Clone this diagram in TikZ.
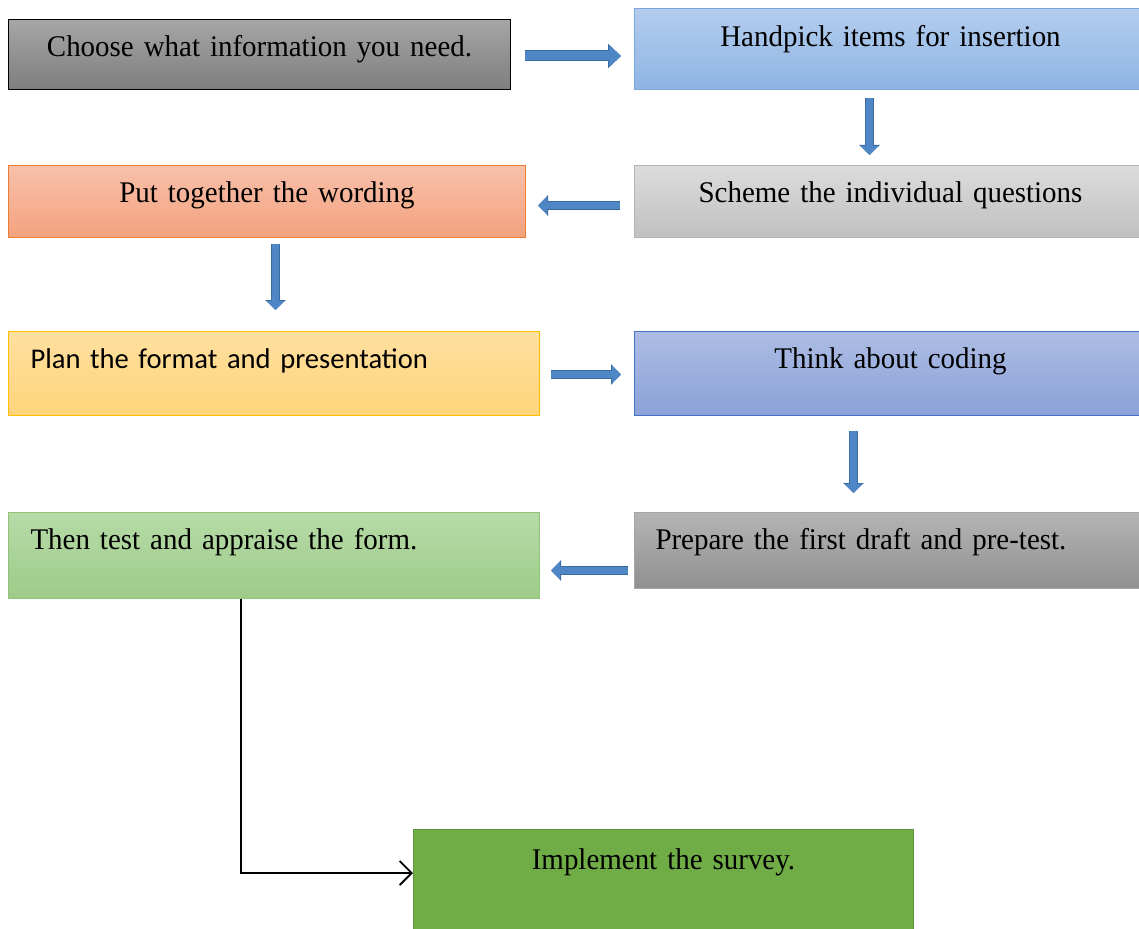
\documentclass[tikz,border=0pt]{standalone}
\usepackage{fontspec}
\setmainfont{Liberation Serif}[FakeStretch=0.965]
\newfontfamily\calibri{Carlito}
\usetikzlibrary{arrows.meta}
\protected\def\tightsp{\spaceskip=5.7pt\relax}
\definecolor{arrfill}{HTML}{4F86C6}
\definecolor{arredge}{HTML}{3A6B9E}
\tikzset{
  box/.style={anchor=north west, inner xsep=0pt, inner ysep=0pt, align=center,
    font=\fontsize{30}{35}\selectfont\tightsp, line width=1pt},
  leftbox/.style={box, align=left, inner xsep=22pt},
  blockarrow/.style={line width=7pt, draw=arrfill,
    -{Triangle[length=9pt,width=17pt,fill=arrfill,color=arrfill]},
    preaction={draw=arredge, line width=9pt,
      -{Triangle[length=10pt,width=20pt,fill=arredge,color=arredge]}}},
  bigarrow/.style={line width=9pt, draw=arrfill,
    -{Triangle[length=12pt,width=21pt,fill=arrfill,color=arrfill]},
    preaction={draw=arredge, line width=11pt,
      -{Triangle[length=13pt,width=24pt,fill=arredge,color=arredge]}}},
  conn/.style={line width=1.8pt, draw=black,
    -{Straight Barb[length=12pt,width=24pt,line width=1.8pt]}}
}
\begin{document}
\begin{tikzpicture}[x=1pt,y=-1pt]
\useasboundingbox (0,0) rectangle (1139,928);
\clip (0,0) rectangle (1139,928);

\node[box, top color={rgb,255:red,166;green,166;blue,166}, bottom color={rgb,255:red,126;green,126;blue,126}, draw=black,
  text width=502pt, text height=37pt, text depth=33pt] (b1) at (8,19) {Choose what information you need.};
\node[box, top color={rgb,255:red,180;green,205;blue,238}, bottom color={rgb,255:red,142;green,180;blue,227}, draw={rgb,255:red,125;green,166;blue,220},
  text width=512pt, text height=38pt, text depth=43pt] (b2) at (634,8) {Handpick items for insertion};
\node[box, top color={rgb,255:red,220;green,220;blue,220}, bottom color={rgb,255:red,192;green,192;blue,192}, draw={rgb,255:red,180;green,180;blue,180},
  text width=512pt, text height=37pt, text depth=35pt] (b3) at (634,165) {Scheme the individual questions};
\node[box, top color={rgb,255:red,248;green,192;blue,170}, bottom color={rgb,255:red,244;green,162;blue,126}, draw={rgb,255:red,237;green,125;blue,49},
  text width=517pt, text height=37pt, text depth=35pt] (b4) at (8,165) {Put together the wording};
\node[leftbox, top color={rgb,255:red,255;green,224;blue,160}, bottom color={rgb,255:red,255;green,212;blue,122}, draw={rgb,255:red,255;green,192;blue,0},
  font=\calibri\fontsize{28.6}{34}\selectfont,
  text width=487pt, text height=37pt, text depth=47pt] (b5) at (8,331) {Plan the format and presentation};
\node[box, top color={rgb,255:red,173;green,188;blue,228}, bottom color={rgb,255:red,138;green,162;blue,216}, draw={rgb,255:red,68;green,114;blue,196},
  text width=512pt, text height=37pt, text depth=47pt] (b6) at (634,331) {Think about coding};
\node[leftbox, inner xsep=21pt, top color={rgb,255:red,180;green,180;blue,180}, bottom color={rgb,255:red,144;green,144;blue,144}, draw={rgb,255:red,166;green,166;blue,166},
  text width=470pt, text height=37pt, text depth=39pt] (b7) at (634,512) {Prepare the first draft and pre-test.};
\node[leftbox, top color={rgb,255:red,182;green,219;blue,168}, bottom color={rgb,255:red,159;green,203;blue,136}, draw={rgb,255:red,143;green,195;blue,122},
  text width=487pt, text height=37pt, text depth=49pt] (b8) at (8,512) {Then test and appraise the form.};
\node[box, fill={rgb,255:red,112;green,173;blue,71}, draw={rgb,255:red,94;green,150;blue,58},
  text width=500pt, text height=40pt, text depth=70pt] (b9) at (413,829) {Implement the survey.};

\draw[bigarrow, shorten <=14pt, shorten >=13pt] ([yshift=-1.5pt]b1.east) -- ([yshift=-1.5pt]b1.east -| b2.west);
\draw[blockarrow, shorten <=8pt, shorten >=10pt] ([xshift=-21pt]b2.south) -- ([xshift=-21pt]b2.south |- b3.north);
\draw[blockarrow, shorten <=14pt, shorten >=12pt] ([yshift=-4pt]b3.west) -- ([yshift=-4pt]b3.west -| b4.east);
\draw[blockarrow, shorten <=6pt, shorten >=21pt] ([xshift=8.5pt]b4.south) -- ([xshift=8.5pt]b4.south |- b5.north);
\draw[blockarrow, shorten <=11pt, shorten >=13pt] ([yshift=-1pt]b5.east) -- ([yshift=-1pt]b5.east -| b6.west);
\draw[blockarrow, shorten <=15pt, shorten >=19pt] ([xshift=-37pt]b6.south) -- ([xshift=-37pt]b6.south |- b7.north);
\draw[blockarrow, shorten <=6pt, shorten >=11pt] ([yshift=-20pt]b7.west) -- ([yshift=-20pt]b7.west -| b8.east);
\draw[conn] ([xshift=233pt]b8.south west) |- ([yshift=-44pt]b9.north west);
\end{tikzpicture}
\end{document}
